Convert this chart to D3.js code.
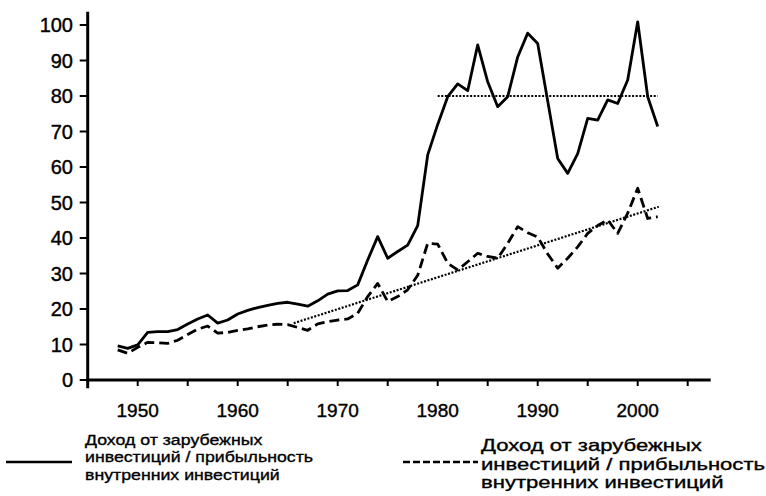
<!DOCTYPE html>
<html>
<head>
<meta charset="utf-8">
<script src="https://cdn.jsdelivr.net/npm/d3@7/dist/d3.min.js"></script>
<style>
  html, body { margin: 0; padding: 0; background: #fff; }
  svg { display: block; }
  text { font-family: "Liberation Sans", Arial, Helvetica, sans-serif; fill: #000; }
</style>
</head>
<body>
<svg id="chart" width="766" height="496"></svg>
<script>
// ---- data ----
const years = d3.range(1948, 2003);
const foreignIncome = [
  9.6, 8.9, 9.9, 13.4, 13.6, 13.6, 14.2, 15.8, 17.2, 18.3,
  16.0, 16.9, 18.6, 19.6, 20.4, 21.0, 21.6, 21.9, 21.4, 20.8,
  22.3, 24.2, 25.1, 25.2, 26.8, 33.8, 40.4, 34.3, 36.2, 38.0,
  43.5, 63.4, 72.0, 79.8, 83.4, 81.5, 94.4, 84.0, 77.0, 79.8,
  91.0, 97.7, 94.8, 78.6, 62.4, 58.2, 63.8, 73.7, 73.2, 78.9,
  77.9, 84.5, 100.9, 79.8, 71.4
];
const foreignIncomeAlt = [
  8.5, 7.5, 9.2, 10.6, 10.5, 10.3, 11.2, 12.8, 14.3, 15.2,
  13.2, 13.4, 14.0, 14.4, 15.0, 15.5, 15.7, 15.6, 14.8, 14.0,
  15.8, 16.4, 16.9, 17.2, 18.8, 23.5, 27.2, 22.1, 23.5, 25.4,
  29.5, 38.5, 38.3, 32.9, 31.0, 33.3, 35.7, 34.8, 34.3, 38.5,
  43.2, 41.5, 40.3, 35.5, 31.5, 34.3, 37.5, 41.3, 43.5, 45.1,
  41.3, 47.0, 54.0, 45.5, 46.0
];
const trendYears = [1965.6, 2002.1];
const trendValues = [16.0, 48.8];
const levelYears = [1980, 2002];
const levelValues = [80, 80];
const yTicks = [0, 10, 20, 30, 40, 50, 60, 70, 80, 90, 100];
const xTickMinor = [1950, 1955, 1960, 1965, 1970, 1975, 1980, 1985, 1990, 1995, 2000, 2005];
const xTickLabels = [1950, 1960, 1970, 1980, 1990, 2000];
const legendText = ["Доход от зарубежных", "инвестиций / прибыльность", "внутренних инвестиций"];

// ---- scales ----
const svg = d3.select("#chart");
const x = d3.scaleLinear().domain([1945, 2007.3]).range([87.7, 710.7]);
const y = d3.scaleLinear().domain([0, 100]).range([380, 25]);

// ---- axes ----
const g = svg.append("g");
g.append("line")
  .attr("x1", x(1945)).attr("x2", x(1945))
  .attr("y1", y(-2.3)).attr("y2", y(103.7))
  .attr("stroke", "#000").attr("stroke-width", 3);
g.append("line")
  .attr("x1", x(1945) - 1.5).attr("x2", x(2007.3))
  .attr("y1", y(0)).attr("y2", y(0))
  .attr("stroke", "#000").attr("stroke-width", 3);

g.selectAll(".ytick").data(yTicks).enter().append("line")
  .attr("x1", x(1945) - 8).attr("x2", x(1945))
  .attr("y1", d => y(d)).attr("y2", d => y(d))
  .attr("stroke", "#000").attr("stroke-width", 2);
g.selectAll(".ylab").data(yTicks).enter().append("text")
  .attr("x", 73).attr("y", d => y(d))
  .attr("dy", "0.36em")
  .attr("text-anchor", "end")
  .attr("font-size", 20)
  .attr("stroke", "#000").attr("stroke-width", 0.4)
  .text(d => d);

g.selectAll(".xtick").data(xTickMinor).enter().append("line")
  .attr("x1", d => x(d)).attr("x2", d => x(d))
  .attr("y1", y(0)).attr("y2", y(0) + 6)
  .attr("stroke", "#000").attr("stroke-width", 2);
g.selectAll(".xlab").data(xTickLabels).enter().append("text")
  .attr("x", d => x(d)).attr("y", 417)
  .attr("text-anchor", "middle")
  .attr("font-size", 19)
  .attr("stroke", "#000").attr("stroke-width", 0.4)
  .text(d => d);

// ---- lines ----
const line = d3.line().x(d => x(d[0])).y(d => y(d[1]));

svg.append("path")
  .datum(d3.zip(levelYears, levelValues))
  .attr("d", line)
  .attr("fill", "none").attr("stroke", "#000")
  .attr("stroke-width", 2.2).attr("stroke-dasharray", "2,1.6");

svg.append("path")
  .datum(d3.zip(trendYears, trendValues))
  .attr("d", line)
  .attr("fill", "none").attr("stroke", "#000")
  .attr("stroke-width", 2.2).attr("stroke-dasharray", "2,1.6");

svg.append("path")
  .datum(d3.zip(years, foreignIncomeAlt))
  .attr("d", line)
  .attr("fill", "none").attr("stroke", "#000")
  .attr("stroke-width", 2.8).attr("stroke-dasharray", "10,5")
  .attr("stroke-linejoin", "round");

svg.append("path")
  .datum(d3.zip(years, foreignIncome))
  .attr("d", line)
  .attr("fill", "none").attr("stroke", "#000")
  .attr("stroke-width", 2.8)
  .attr("stroke-linejoin", "round");

// ---- legend ----
function legend(lx1, lx2, ly, tx, ty, fs, lh, w2, dash) {
  const lg = svg.append("g");
  lg.append("line")
    .attr("x1", lx1).attr("x2", lx2).attr("y1", ly).attr("y2", ly)
    .attr("stroke", "#000").attr("stroke-width", 2.6)
    .attr("stroke-dasharray", dash);
  const texts = lg.selectAll("text").data(legendText).enter().append("text")
    .attr("x", tx).attr("y", (d, i) => ty + i * lh)
    .attr("font-size", fs)
    .attr("stroke", "#000").attr("stroke-width", 0.35)
    .text(d => d);
  const nat = texts.nodes().map(n => n.getComputedTextLength());
  const k = w2 / nat[1];
  texts.attr("textLength", (d, i) => nat[i] * k).attr("lengthAdjust", "spacingAndGlyphs");
}
legend(6, 72, 462, 85, 445, 15.5, 17.3, 228, null);
legend(403, 478, 462, 481, 451, 16.5, 18.5, 284, "7,3");
</script>
</body>
</html>
